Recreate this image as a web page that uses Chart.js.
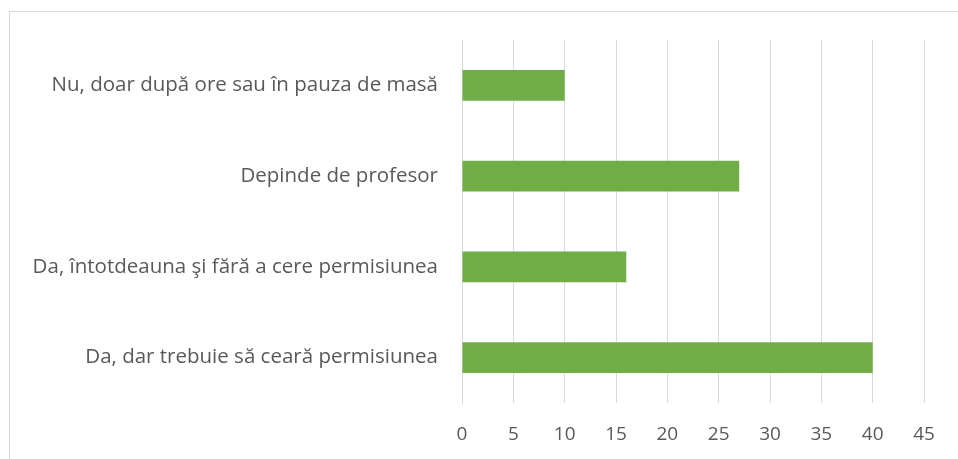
<!DOCTYPE html>
<html>
<head>
<meta charset="utf-8">
<script src="https://cdn.jsdelivr.net/npm/chart.js@4/dist/chart.umd.min.js"></script>
<style>
  html,body{margin:0;padding:0;background:#fff;}
  #wrap{width:958px;height:459px;position:relative;}
</style>
</head>
<body>
<div id="wrap"><canvas id="c" width="958" height="459"></canvas></div>
<script>
/* ── DATA ── */
const categories = [
  'Nu, doar după ore sau în pauza de masă',
  'Depinde de profesor',
  'Da, întotdeauna şi fără a cere permisiunea',
  'Da, dar trebuie să ceară permisiunea'
];
const values = [10, 27, 16, 40];
const xMin = 0, xMax = 45, xStep = 5;

const FONT = "'Open Sans', 'Noto Sans', sans-serif";
const TXT = '#595959';

// light frame around the chart (only left/top edges fall inside the picture)
const framePlugin = {
  id: 'frame',
  beforeDraw(chart) {
    const ctx = chart.ctx;
    ctx.save();
    ctx.strokeStyle = '#d9d9d9';
    ctx.lineWidth = 1;
    ctx.strokeRect(9.5, 11.5, 1200, 800);
    ctx.restore();
  }
};

new Chart(document.getElementById('c').getContext('2d'), {
  type: 'bar',
  data: {
    labels: categories,
    datasets: [{
      data: values,
      backgroundColor: '#70ad47',
      borderWidth: 0,
      barPercentage: 0.68,
      categoryPercentage: 0.5
    }]
  },
  options: {
    indexAxis: 'y',
    responsive: false,
    animation: false,
    layout: { padding: { top: 40, right: 34, left: 0, bottom: 0 } },
    plugins: { legend: { display: false }, tooltip: { enabled: false } },
    scales: {
      x: {
        min: xMin, max: xMax,
        ticks: { stepSize: xStep, color: TXT, font: { family: FONT, size: 19 }, padding: 20 },
        grid: { color: '#d9d9d9', lineWidth: 1, drawTicks: false },
        border: { display: false },
        afterFit: s => { s.height = 56; }
      },
      y: {
        ticks: { color: TXT, font: { family: FONT, size: 20.5 }, padding: 24 },
        grid: { display: false, drawTicks: false },
        border: { display: true, color: '#d9d9d9', width: 1 },
        afterFit: s => { s.width = 462; }
      }
    }
  },
  plugins: [framePlugin]
});
</script>
</body>
</html>
